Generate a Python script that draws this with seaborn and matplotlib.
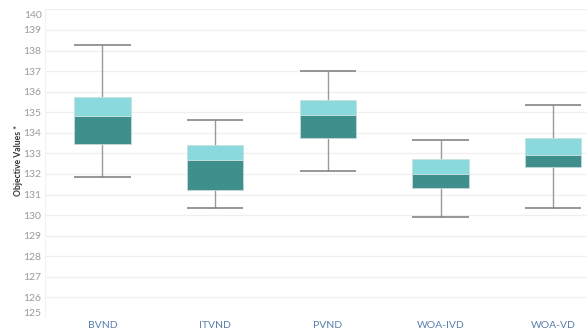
import matplotlib
matplotlib.use("Agg")
import matplotlib.pyplot as plt
import matplotlib.transforms as mtransforms
import seaborn as sns
import pandas as pd
import numpy as np

categories = ["BVND", "ITVND", "PVND", "WOA-IVD", "WOA-VD"]
whisker_low = [131.85, 130.34, 132.16, 129.91, 130.37]
q1 = [133.45, 131.23, 133.74, 131.31, 132.36]
median = [134.81, 132.67, 134.89, 132.01, 132.90]
q3 = [135.73, 133.40, 135.59, 132.72, 133.77]
whisker_high = [138.29, 134.60, 137.00, 133.65, 135.34]
y_ticks = list(range(125, 141))

df = pd.DataFrame({
    "cat": categories, "lo": whisker_low, "q1": q1, "med": median,
    "q3": q3, "hi": whisker_high,
})
df["lower_h"] = df["med"] - df["q1"]
df["upper_h"] = df["q3"] - df["med"]

sns.set_theme(style="white")
plt.rcParams["font.family"] = ["Lato", "DejaVu Sans"]

fig = plt.figure(figsize=(5.87, 3.32), dpi=100)
ax = fig.add_axes([45 / 587, 14 / 332, 542 / 587, 308.6 / 332])

dark = "#3f8f8d"
light = "#8ad9dc"
wcol = "#9a9a9a"
ccol = "#7a7a7a"
bw = 0.5

xpos = np.arange(len(categories))
ax.vlines(xpos, df["lo"], df["q1"], color=wcol, lw=1.0, zorder=2)
ax.vlines(xpos, df["q3"], df["hi"], color=wcol, lw=1.0, zorder=2)
ax.hlines(df["lo"], xpos - bw / 2, xpos + bw / 2, color=ccol, lw=1.1, zorder=2)
ax.hlines(df["hi"], xpos - bw / 2, xpos + bw / 2, color=ccol, lw=1.1, zorder=2)

sns.barplot(data=df, x="cat", y="lower_h", order=categories, color=dark,
            width=bw, bottom=df["q1"].values, ax=ax, saturation=1,
            edgecolor="#c8d8d8", linewidth=0.6, zorder=3)
sns.barplot(data=df, x="cat", y="upper_h", order=categories, color=light,
            width=bw, bottom=df["med"].values, ax=ax, saturation=1,
            edgecolor="#c8dede", linewidth=0.6, zorder=3)

ax.set_xlim(-0.51, 4.3)
ax.set_ylim(125, 140)
ax.set_yticks(y_ticks)
ax.set_yticklabels([str(t) for t in y_ticks])
for t in y_ticks:
    ax.axhline(t, color="#efefef", lw=0.9, zorder=0)
ax.axvline(-0.51, color="#f2f2f2", lw=0.9, zorder=0)

for s in ax.spines.values():
    s.set_visible(False)

ax.tick_params(axis="y", length=0, pad=2.5, labelsize=7.5, labelcolor="#9a9a9a")
ax.tick_params(axis="x", length=0, pad=2.5, labelsize=7.5, labelcolor="#5a7fae")
labels = ax.get_yticklabels()
up = mtransforms.ScaledTranslation(0, 5.0 / 100, fig.dpi_scale_trans)
down = mtransforms.ScaledTranslation(0, -5.0 / 100, fig.dpi_scale_trans)
labels[0].set_transform(labels[0].get_transform() + up)
labels[-1].set_transform(labels[-1].get_transform() + down)

ax.set_xlabel("")
ax.set_ylabel("Objective Values *", fontsize=6.2, color="#333333",
              fontweight="bold")
ax.yaxis.set_label_coords(-0.040, 0.51)

fig.savefig("out.png", dpi=100)
